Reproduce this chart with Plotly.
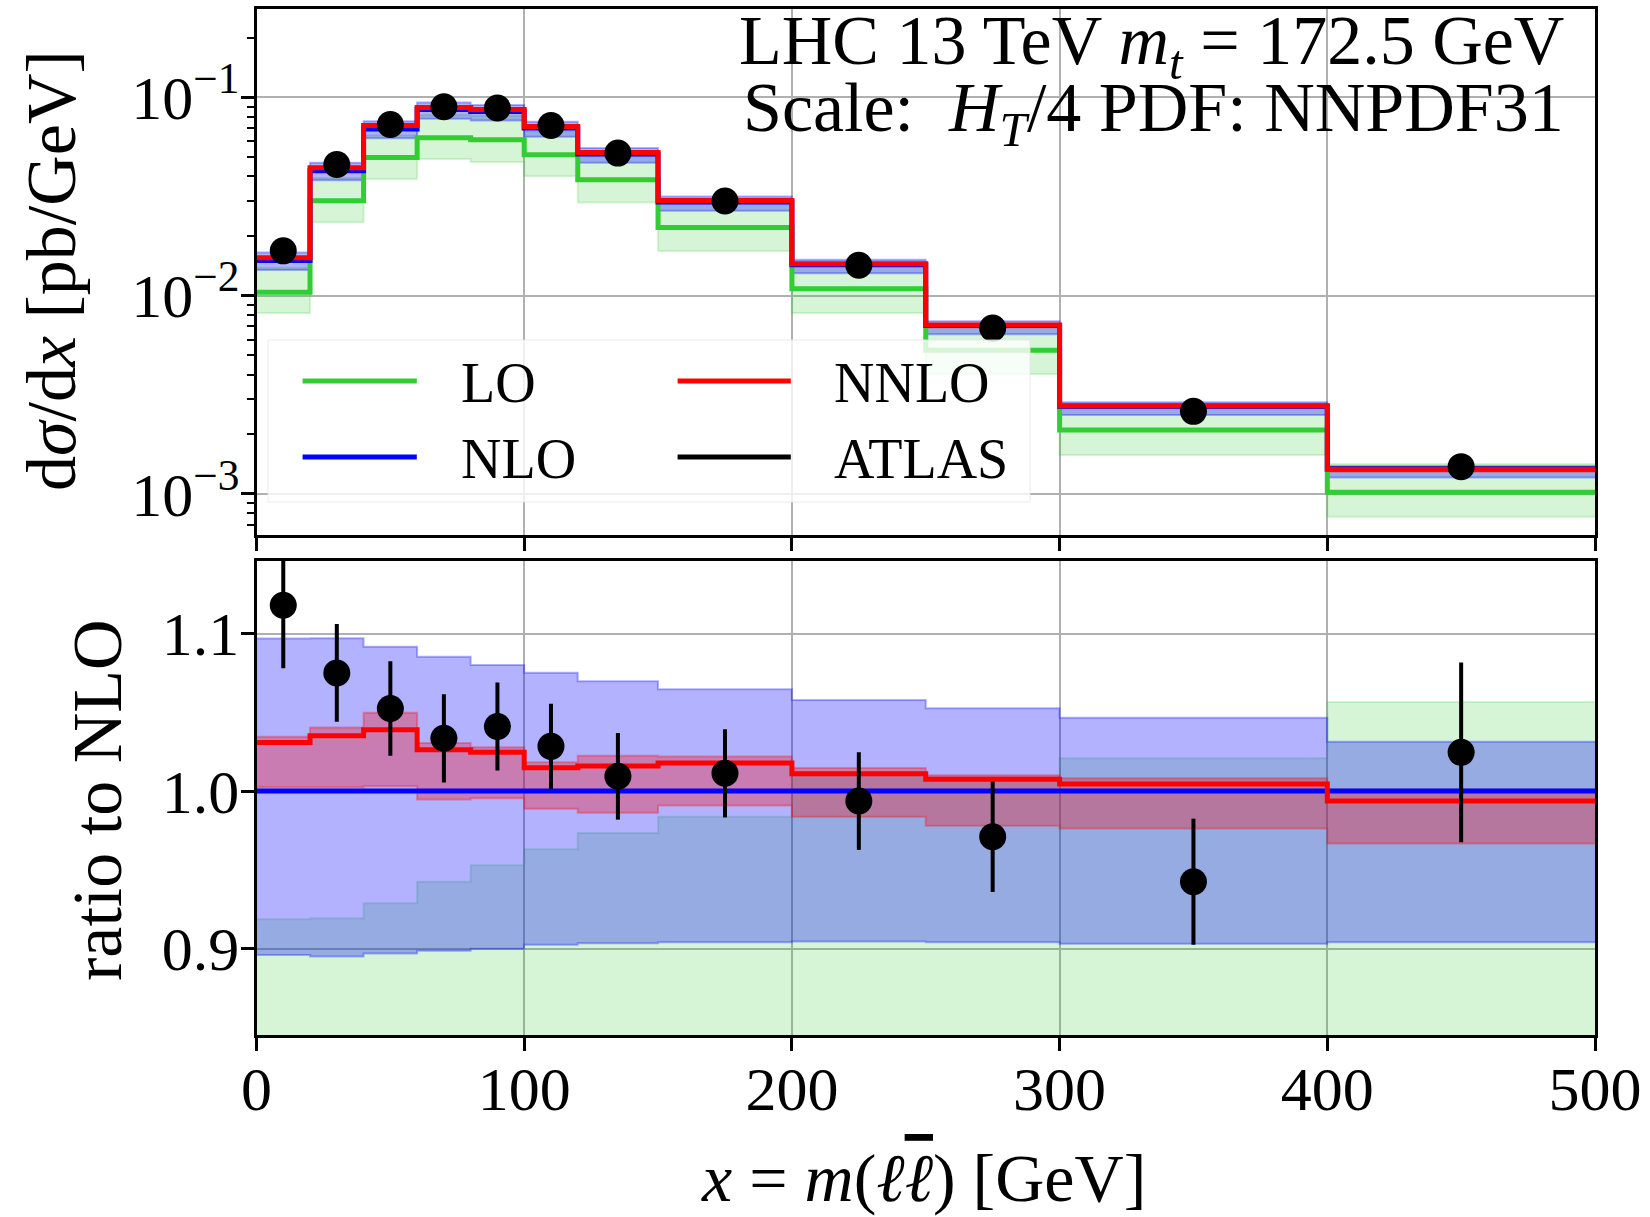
import plotly.graph_objects as go

# ---------------- data ----------------
bin_edges = [0, 20, 40, 60, 80, 100, 120, 150, 200, 250, 300, 400, 500]
nlo = [0.01506, 0.0427, 0.0694, 0.0868, 0.0849, 0.0702, 0.0519, 0.0297,
       0.01433, 0.00707, 0.00277, 0.00134]
nlo_up_r = [1.0968, 1.097, 1.0916, 1.0853, 1.080, 1.0751, 1.0698, 1.0646,
            1.0578, 1.0526, 1.0466, 1.0313]
nlo_dn_r = [0.896, 0.895, 0.897, 0.8987, 0.900, 0.9025, 0.9035, 0.904,
            0.9046, 0.904, 0.9031, 0.904]
nnlo_r = [1.0309, 1.0351, 1.0389, 1.0263, 1.0246, 1.0149, 1.016, 1.0178,
          1.0110, 1.0076, 1.0045, 0.9937]
nnlo_up_r = [1.0345, 1.0404, 1.0498, 1.0305, 1.0278, 1.0183, 1.0225, 1.022,
             1.0146, 1.0100, 1.0082, 1.001]
nnlo_dn_r = [1.0025, 1.0025, 1.0031, 0.9947, 0.9955, 0.9888, 0.9863, 0.9909,
             0.9838, 0.978, 0.9762, 0.9667]
lo_r = [0.692, 0.705, 0.718, 0.721, 0.720, 0.731, 0.740, 0.744, 0.756,
        0.750, 0.758, 0.761]
lo_dn_r = [0.543, 0.550, 0.558, 0.563, 0.557, 0.570, 0.568, 0.566, 0.571,
           0.570, 0.567, 0.572]
lo_up_r = [0.9187, 0.9193, 0.9288, 0.9425, 0.953, 0.9631, 0.9734, 0.9837,
           1.012, 1.009, 1.0208, 1.0566]
data_x = [10, 30, 50, 70, 90, 110, 135, 175, 225, 275, 350, 450]
data_r = [1.118, 1.075, 1.0524, 1.0335, 1.041, 1.0284, 1.0094, 1.0113,
          0.9937, 0.971, 0.9425, 1.0246]
data_err_r = [0.040, 0.031, 0.030, 0.028, 0.028, 0.027, 0.0275, 0.028,
              0.031, 0.035, 0.040, 0.057]

series_names = ["LO", "NLO", "NNLO", "ATLAS"]
x_ticks = [0, 100, 200, 300, 400, 500]
y_ticks_top = [0.001, 0.01, 0.1]
y_ticktext_top = ["10<sup>\u22123</sup>", "10<sup>\u22122</sup>", "10<sup>\u22121</sup>"]
y_ticks_bot = [0.9, 1.0, 1.1]
y_ticktext_bot = ["0.9", "1.0", "1.1"]

# ---------------- styling ----------------
W, H = 1650, 1217
FONT = "Liberation Serif"
C_LO, C_NLO, C_NNLO = "#32CD32", "#0000FF", "#FF0000"
B_LO, B_NLO, B_NNLO = "rgba(50,205,50,0.2)", "rgba(0,0,255,0.3)", "rgba(255,0,0,0.3)"
GRID = "#b0b0b0"


def px(x):
    return x / W


def py(y):
    return 1 - y / H


def step(vals):
    return list(vals) + [vals[-1]]


def scaled(ratio, absolute):
    return [nlo[i] * ratio[i] for i in range(len(nlo))] if absolute else list(ratio)


fig = go.Figure()

bands = [(lo_dn_r, lo_up_r, B_LO), (nlo_dn_r, nlo_up_r, B_NLO), (nnlo_dn_r, nnlo_up_r, B_NNLO)]
lines = [(lo_r, C_LO), ([1.0] * len(nlo), C_NLO), (nnlo_r, C_NNLO)]

for absolute, xa, ya in [(True, "x", "y"), (False, "x2", "y2")]:
    for dn, up, col in bands:
        fig.add_trace(go.Scatter(x=bin_edges, y=step(scaled(dn, absolute)), mode="lines",
                                 line=dict(shape="hv", color=col, width=2),
                                 xaxis=xa, yaxis=ya, showlegend=False, hoverinfo="skip"))
        fig.add_trace(go.Scatter(x=bin_edges, y=step(scaled(up, absolute)), mode="lines",
                                 line=dict(shape="hv", color=col, width=2),
                                 fill="tonexty", fillcolor=col,
                                 xaxis=xa, yaxis=ya, showlegend=False, hoverinfo="skip"))
    for vals, col in lines:
        fig.add_trace(go.Scatter(x=bin_edges, y=step(scaled(vals, absolute)), mode="lines",
                                 line=dict(shape="hv", color=col, width=5),
                                 xaxis=xa, yaxis=ya, showlegend=False, hoverinfo="skip"))
    dy = scaled(data_r, absolute)
    de = scaled(data_err_r, absolute)
    fig.add_trace(go.Scatter(x=data_x, y=dy, mode="markers",
                             marker=dict(color="black", size=27),
                             error_y=dict(type="data", array=de, color="black",
                                          thickness=4, width=0),
                             xaxis=xa, yaxis=ya, showlegend=False, hoverinfo="skip"))

xdom = [px(256.5), px(1595)]
axis_common = dict(showline=True, linecolor="black", linewidth=2.5, mirror=True,
                   ticks="outside", ticklen=13, tickwidth=2.5, tickcolor="black",
                   showgrid=True, gridcolor=GRID, gridwidth=2, zeroline=False,
                   automargin=False, tickfont=dict(family=FONT, size=62, color="black"))

minor_vals = [k * 10 ** e for e in (-4, -3, -2, -1) for k in range(2, 10)]

fig.update_layout(
    width=W, height=H, autosize=False,
    margin=dict(l=0, r=0, t=0, b=0),
    paper_bgcolor="white", plot_bgcolor="white",
    showlegend=False,
    xaxis=dict(domain=xdom, anchor="y", range=[0, 500], tickvals=x_ticks,
               showticklabels=False, **axis_common),
    yaxis=dict(domain=[py(535), py(8.6)], anchor="x", type="log",
               range=[-3.207, -0.552], tickvals=y_ticks_top, ticktext=y_ticktext_top,
               ticklabelstandoff=-11,
               minor=dict(tickmode="array", tickvals=minor_vals, ticks="outside",
                          ticklen=7, tickwidth=2, tickcolor="black", showgrid=False),
               **axis_common),
    xaxis2=dict(domain=xdom, anchor="y2", range=[0, 500], tickvals=x_ticks,
                ticktext=[str(v) for v in x_ticks], matches="x", ticklabelstandoff=-15,
                **axis_common),
    yaxis2=dict(domain=[py(1035), py(560.6)], anchor="x2", range=[0.8452, 1.1463],
                tickvals=y_ticks_bot, ticktext=y_ticktext_bot, ticklabelstandoff=-11,
                **axis_common),
)

# ---------------- legend (drawn manually, 2 columns) ----------------
fig.add_shape(type="rect", xref="paper", yref="paper",
              x0=px(268), x1=px(1030), y0=py(502), y1=py(340),
              fillcolor="rgba(255,255,255,0.8)", line=dict(color="rgba(230,230,230,0.8)", width=1),
              layer="above")
leg_items = [(series_names[0], C_LO, 302.6, 416.8, 459, 381),
             (series_names[1], C_NLO, 302.6, 416.8, 459, 457),
             (series_names[2], C_NNLO, 677.6, 790.8, 832, 381),
             (series_names[3], "black", 677.6, 790.8, 832, 457)]
for name, col, x0, x1, xt, yy in leg_items:
    fig.add_shape(type="line", xref="paper", yref="paper", x0=px(x0), x1=px(x1),
                  y0=py(yy), y1=py(yy), line=dict(color=col, width=5), layer="above")
    fig.add_annotation(xref="paper", yref="paper", x=px(xt), y=py(yy + 2), text=name,
                       showarrow=False, xanchor="left", yanchor="middle",
                       font=dict(family=FONT, size=56, color="black"))

# ---------------- text ----------------
fig.add_annotation(xref="paper", yref="paper", x=px(1566), y=py(46),
                   text="LHC 13 TeV <i>m</i><sub><i>t</i></sub> = 172.5 GeV",
                   showarrow=False, xanchor="right", yanchor="middle",
                   font=dict(family=FONT, size=70, color="black"))
fig.add_annotation(xref="paper", yref="paper", x=px(1566), y=py(113),
                   text="Scale:  <i>H</i><sub><i>T</i></sub>/4 PDF: NNPDF31",
                   showarrow=False, xanchor="right", yanchor="middle",
                   font=dict(family=FONT, size=70, color="black"))
fig.add_annotation(xref="paper", yref="paper", x=px(52), y=py(271),
                   text="d<i>\u03c3</i>/d<i>x</i> [pb/GeV]", textangle=-90,
                   showarrow=False, xanchor="center", yanchor="middle",
                   font=dict(family=FONT, size=70, color="black"))
fig.add_annotation(xref="paper", yref="paper", x=px(97), y=py(800),
                   text="ratio to NLO", textangle=-90,
                   showarrow=False, xanchor="center", yanchor="middle",
                   font=dict(family=FONT, size=70, color="black"))
fig.add_annotation(xref="paper", yref="paper", x=px(923), y=py(1178),
                   text="<i>x</i> = <i>m</i>(<i>\u2113<span style=\"text-decoration:overline\">\u2113</span></i>) [GeV]",
                   showarrow=False, xanchor="center", yanchor="middle",
                   font=dict(family=FONT, size=68, color="black"))

fig.write_html("out.html")
